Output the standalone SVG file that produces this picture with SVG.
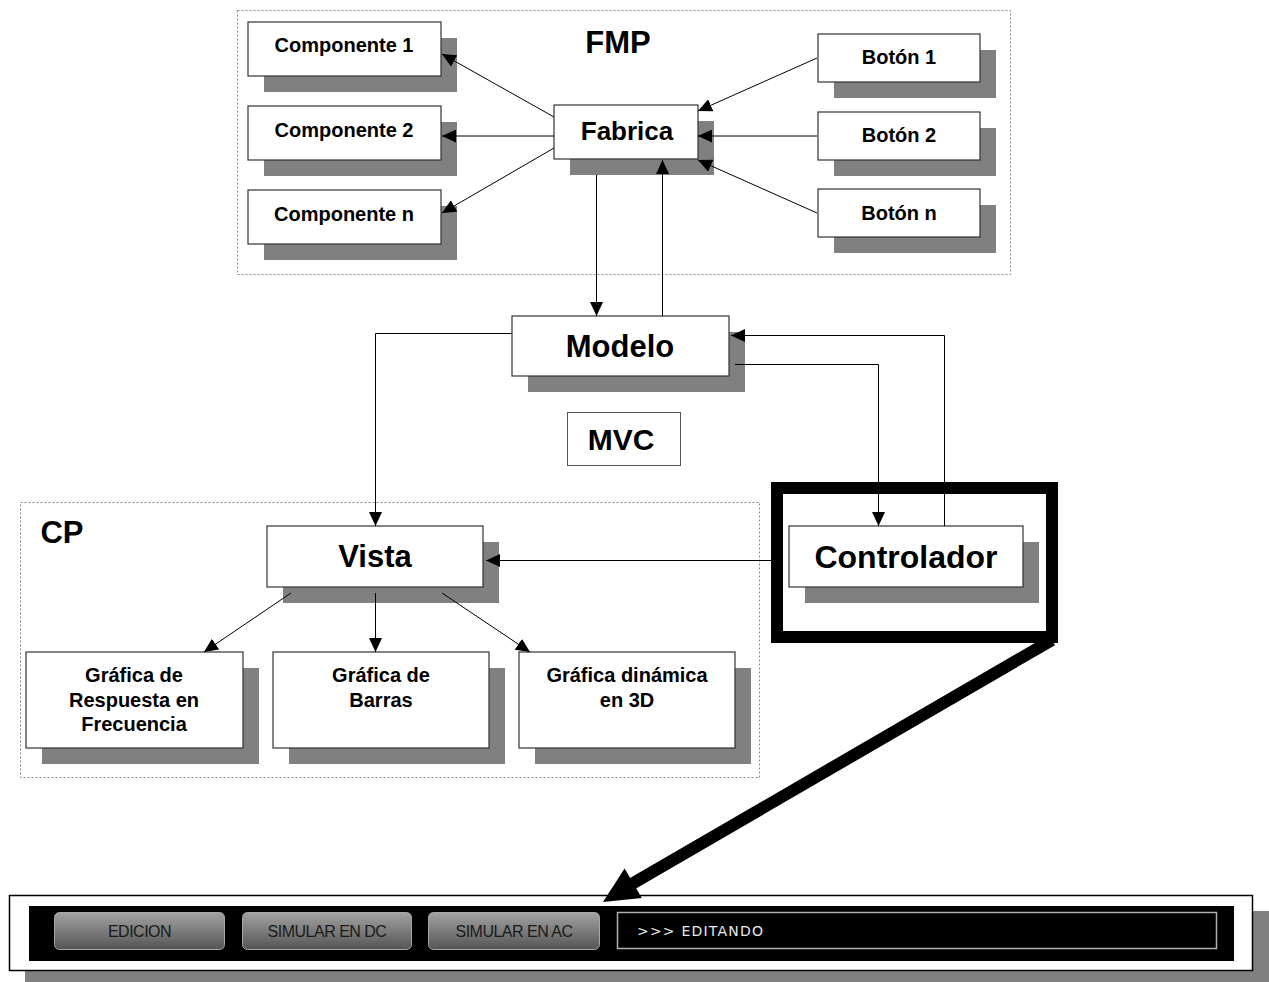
<svg xmlns="http://www.w3.org/2000/svg" width="1269" height="982" viewBox="0 0 1269 982">
  <style>
    .box { fill: #ffffff; stroke: #333333; stroke-width: 1.2; }
    .shadow { fill: #808080; }
    .frame { fill: none; stroke: #8a8a8a; stroke-width: 1; stroke-dasharray: 2 2; }
    .lbl { font-family: "Liberation Sans", Arial, sans-serif; font-weight: bold; fill: #000; text-anchor: middle; }
    .s20 { font-size: 20px; }
    .s26 { font-size: 26px; }
    .s31 { font-size: 31px; }
    .conn { fill: none; stroke: #000; stroke-width: 1; marker-end: url(#head); }
    .btn { fill: url(#btnGrad); stroke: #a8a8a8; stroke-width: 1; }
    .btnText { font-family: "Liberation Sans", Arial, sans-serif; font-size: 16px; fill: #1a1a1a; text-anchor: middle; letter-spacing: -0.5px; }
  </style>
  <defs>
    <marker id="head" viewBox="0 0 14 13" refX="14" refY="6.5" markerWidth="14" markerHeight="13" markerUnits="userSpaceOnUse" orient="auto">
      <path d="M0,0 L14,6.5 L0,13 z" fill="#000"/>
    </marker>
    <linearGradient id="btnGrad" x1="0" y1="0" x2="0" y2="1">
      <stop offset="0" stop-color="#a2a2a2"/>
      <stop offset="0.5" stop-color="#7c7c7c"/>
      <stop offset="1" stop-color="#545454"/>
    </linearGradient>
  </defs>

  <rect width="1269" height="982" fill="#ffffff"/>

  <!-- dashed package frames -->
  <g id="fmp">
    <rect class="frame" x="237.5" y="10.5" width="773" height="264"/>
    <text class="lbl s31" x="618" y="53">FMP</text>
  </g>
  <g id="cp">
    <rect class="frame" x="20.5" y="502.5" width="739" height="275"/>
    <text class="lbl s31" x="62" y="543">CP</text>
  </g>

  <!-- components -->
  <g id="componente1">
    <rect class="shadow" x="264" y="38" width="193" height="54"/>
    <rect class="box" x="248" y="22" width="193" height="54"/>
    <text class="lbl s20" x="344" y="52">Componente 1</text>
  </g>
  <g id="componente2">
    <rect class="shadow" x="264" y="122" width="193" height="54"/>
    <rect class="box" x="248" y="106" width="193" height="54"/>
    <text class="lbl s20" x="344" y="137">Componente 2</text>
  </g>
  <g id="componenteN">
    <rect class="shadow" x="264" y="206" width="193" height="54"/>
    <rect class="box" x="248" y="190" width="193" height="54"/>
    <text class="lbl s20" x="344" y="221">Componente n</text>
  </g>

  <!-- buttons -->
  <g id="boton1">
    <rect class="shadow" x="834" y="50" width="162" height="48"/>
    <rect class="box" x="818" y="34" width="162" height="48"/>
    <text class="lbl s20" x="899" y="64">Botón 1</text>
  </g>
  <g id="boton2">
    <rect class="shadow" x="834" y="128" width="162" height="48"/>
    <rect class="box" x="818" y="112" width="162" height="48"/>
    <text class="lbl s20" x="899" y="142">Botón 2</text>
  </g>
  <g id="botonN">
    <rect class="shadow" x="834" y="205" width="162" height="48"/>
    <rect class="box" x="818" y="189" width="162" height="48"/>
    <text class="lbl s20" x="899" y="220">Botón n</text>
  </g>

  <!-- factory -->
  <g id="fabrica">
    <rect class="shadow" x="570" y="121" width="144" height="54"/>
    <rect class="box" x="554" y="105" width="144" height="54"/>
    <text class="lbl s26" x="627" y="140">Fabrica</text>
  </g>

  <!-- MVC core -->
  <g id="modelo">
    <rect class="shadow" x="528" y="332" width="217" height="60"/>
    <rect class="box" x="512" y="316" width="217" height="60"/>
    <text class="lbl s31" x="620" y="357">Modelo</text>
  </g>
  <g id="mvc">
    <rect x="567.5" y="412.5" width="113" height="53" fill="#fff" stroke="#555" stroke-width="1"/>
    <text class="lbl" font-size="30" x="621" y="450">MVC</text>
  </g>
  <g id="vista">
    <rect class="shadow" x="283" y="542" width="216" height="61"/>
    <rect class="box" x="267" y="526" width="216" height="61"/>
    <text class="lbl s31" x="375" y="567">Vista</text>
  </g>
  <g id="controlador">
    <rect x="777" y="488" width="275" height="149" fill="none" stroke="#000" stroke-width="12"/>
    <rect class="shadow" x="805" y="542" width="234" height="61"/>
    <rect class="box" x="789" y="526" width="234" height="61"/>
    <text class="lbl" font-size="32" x="906" y="568">Controlador</text>
  </g>

  <!-- charts -->
  <g id="graficaFrecuencia">
    <rect class="shadow" x="42" y="668" width="217" height="96"/>
    <rect class="box" x="26" y="652" width="217" height="96"/>
    <text class="lbl s20" x="134" y="682">Gráfica de</text>
    <text class="lbl s20" x="134" y="707">Respuesta en</text>
    <text class="lbl s20" x="134" y="731">Frecuencia</text>
  </g>
  <g id="graficaBarras">
    <rect class="shadow" x="289" y="668" width="216" height="96"/>
    <rect class="box" x="273" y="652" width="216" height="96"/>
    <text class="lbl s20" x="381" y="682">Gráfica de</text>
    <text class="lbl s20" x="381" y="707">Barras</text>
  </g>
  <g id="graficaDinamica">
    <rect class="shadow" x="535" y="668" width="216" height="96"/>
    <rect class="box" x="519" y="652" width="216" height="96"/>
    <text class="lbl s20" x="627" y="682">Gráfica dinámica</text>
    <text class="lbl s20" x="627" y="707">en 3D</text>
  </g>

  <!-- toolbar -->
  <g id="toolbar">
    <rect class="shadow" x="25" y="911" width="1244" height="71"/>
    <rect x="9.5" y="895.5" width="1243" height="75" fill="#fff" stroke="#000" stroke-width="1.5"/>
    <rect x="29" y="906" width="1205" height="55" fill="#000"/>
    <rect class="btn" x="54.5" y="912.5" width="170" height="37" rx="5"/>
    <text class="btnText" x="139.5" y="937">EDICION</text>
    <rect class="btn" x="242.5" y="912.5" width="169" height="37" rx="5"/>
    <text class="btnText" x="327" y="937">SIMULAR EN DC</text>
    <rect class="btn" x="428.5" y="912.5" width="171" height="37" rx="5"/>
    <text class="btnText" x="514" y="937">SIMULAR EN AC</text>
    <rect x="617.5" y="912.5" width="599" height="36" fill="#000" stroke="#b0b0b0" stroke-width="1.5"/>
    <text x="637" y="936" font-family="'DejaVu Sans', sans-serif" font-size="14" fill="#e8e8e8" letter-spacing="1.2">&gt;&gt;&gt; EDITANDO</text>
  </g>

  <!-- connectors -->
  <g id="connectors">
    <path class="conn" d="M554,117 L442,54"/>
    <path class="conn" d="M554,136 L442,136"/>
    <path class="conn" d="M554,148 L442,213"/>
    <path class="conn" d="M817,58 L698,111"/>
    <path class="conn" d="M817,136 L698,136"/>
    <path class="conn" d="M817,213 L698,160"/>
    <path class="conn" d="M596.5,175 L596.5,316"/>
    <path class="conn" d="M662.5,316 L662.5,160"/>
    <path class="conn" d="M512,333.5 L375.5,333.5 L375.5,526"/>
    <path class="conn" d="M944.5,526 L944.5,335.5 L731,335.5"/>
    <path class="conn" d="M735,364.5 L878.5,364.5 L878.5,526"/>
    <path class="conn" d="M771,560.5 L486,560.5"/>
    <path class="conn" d="M291,593 L204,652"/>
    <path class="conn" d="M375.5,593 L375.5,652"/>
    <path class="conn" d="M442,593 L530,652"/>
    <!-- heavy pointer from the controller to the toolbar -->
    <path d="M1052,640 L630,885" fill="none" stroke="#000" stroke-width="12"/>
    <path d="M603,902 L624.6,868.6 L641.8,898 z" fill="#000"/>
  </g>
</svg>
